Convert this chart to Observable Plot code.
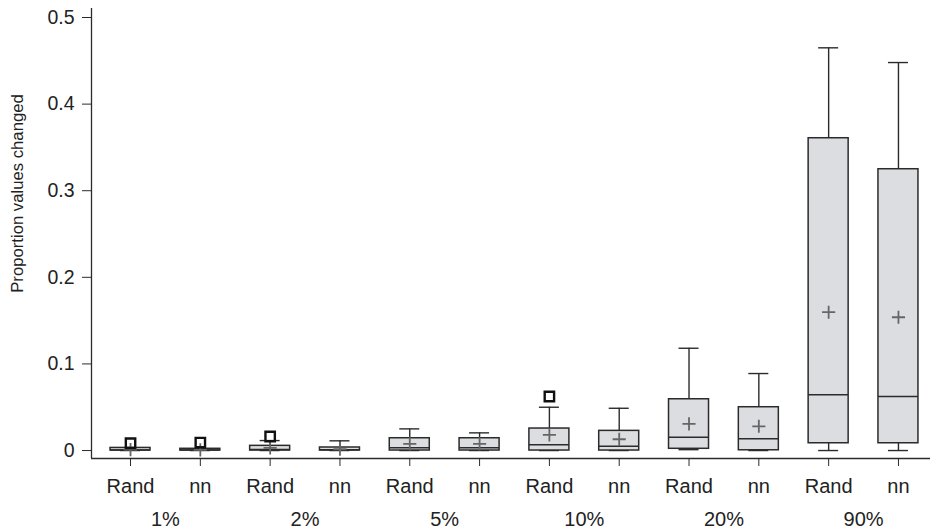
<!DOCTYPE html>
<html>
<head>
<meta charset="utf-8">
<script src="https://cdn.jsdelivr.net/npm/d3@7"></script>
<script src="https://cdn.jsdelivr.net/npm/@observablehq/plot@0.6"></script>
<style>
  html, body { margin: 0; padding: 0; background: #fff; }
  #chart svg { display: block; }
</style>
</head>
<body>
<div id="chart"></div>
<script>
// ---- data ----
const groups = ["1%", "2%", "5%", "10%", "20%", "90%"];
const methods = ["Rand", "nn"];
// order: 1% Rand, 1% nn, 2% Rand, 2% nn, 5% Rand, 5% nn, 10% Rand, 10% nn, 20% Rand, 20% nn, 90% Rand, 90% nn
const whiskerLow  = [0, 0, 0, 0, 0, 0, 0, 0, 0.001, 0, 0, 0];
const q1          = [0, 0, 0, 0, 0, 0, 0, 0, 0.002, 0.0003, 0.0084, 0.0084];
const median      = [0.0005, 0.0005, 0.0012, 0.001, 0.0031, 0.0031, 0.0066, 0.005, 0.0154, 0.0135, 0.0643, 0.0624];
const q3          = [0.003, 0.002, 0.0054, 0.0035, 0.0142, 0.0142, 0.0254, 0.0227, 0.0592, 0.05, 0.3606, 0.3248];
const whiskerHigh = [0.003, 0.002, 0.0115, 0.0112, 0.025, 0.0204, 0.05, 0.0488, 0.1181, 0.0889, 0.465, 0.448];
const mean        = [0.001, 0.0008, 0.003, 0.0015, 0.0077, 0.0077, 0.0181, 0.013, 0.0308, 0.028, 0.1597, 0.1539];
const outlierIndex = [0, 1, 2, 6];
const outlierValue = [0.0084, 0.0092, 0.0162, 0.0624];
const yTicks = [0, 0.1, 0.2, 0.3, 0.4, 0.5];
const yLabel = "Proportion values changed";

// ---- build table ----
const boxes = q1.map((_, i) => ({
  i, group: groups[Math.floor(i / 2)], method: methods[i % 2],
  lo: whiskerLow[i], q1: q1[i], med: median[i], q3: q3[i], hi: whiskerHigh[i], mean: mean[i]
}));
const outliers = outlierIndex.map((i, k) => ({ i, v: outlierValue[k] }));

const xDomain = [-0.559, 11.459];
const yDomain = [-0.0092, 0.5104];
const boxHalf = 0.2865;
const capHalf = 0.1432;
const boxFill = "#dcdde0";
const ink = "#2b2b2b";

const chart = Plot.plot({
  width: 930,
  height: 532,
  marginLeft: 91,
  marginRight: 0,
  marginTop: 8,
  marginBottom: 74,
  style: { fontFamily: "'Liberation Sans', Arial, Helvetica, sans-serif", background: "#fff", color: "#222" },
  x: { type: "linear", domain: xDomain },
  y: { type: "linear", domain: yDomain },
  marks: [
    // whiskers
    Plot.ruleX(boxes, { x: "i", y1: "lo", y2: "hi", stroke: ink, strokeWidth: 1.4 }),
    Plot.ruleY(boxes, { y: "hi", x1: d => d.i - capHalf, x2: d => d.i + capHalf, stroke: ink, strokeWidth: 1.4 }),
    Plot.ruleY(boxes, { y: "lo", x1: d => d.i - capHalf, x2: d => d.i + capHalf, stroke: ink, strokeWidth: 1.4 }),
    // boxes
    Plot.rect(boxes, { x1: d => d.i - boxHalf, x2: d => d.i + boxHalf, y1: "q1", y2: "q3", fill: boxFill, stroke: ink, strokeWidth: 1.5 }),
    Plot.ruleY(boxes, { y: "med", x1: d => d.i - boxHalf, x2: d => d.i + boxHalf, stroke: ink, strokeWidth: 1.5 }),
    // means
    Plot.dot(boxes, { x: "i", y: "mean", symbol: "plus", r: 4.3, stroke: "#666", strokeWidth: 1.8 }),
    // outliers
    Plot.dot(outliers, { x: "i", y: "v", symbol: "square", r: 5.3, stroke: "#111", strokeWidth: 2.4, fill: "none" }),
    // axes lines
    Plot.ruleY([yDomain[0]], { stroke: ink, strokeWidth: 1.3 }),
    Plot.ruleX([xDomain[0]], { stroke: ink, strokeWidth: 1.3 }),
    // y axis
    Plot.axisY({ ticks: yTicks, tickFormat: d => d === 0 ? "0" : d.toFixed(1), tickSize: 9, tickPadding: 8, fontSize: 19.5, label: null, stroke: ink }),
    Plot.text([yLabel], { frameAnchor: "left", textAnchor: "middle", rotate: -90, dx: -74, dy: -40, fontSize: 16.7, fill: "#222" }),
    // x axis: method labels
    Plot.axisX({ ticks: boxes.map(d => d.i), tickFormat: i => methods[i % 2], tickSize: 8, tickPadding: 12, fontSize: 20, label: null, stroke: ink }),
    // x axis: group labels
    Plot.axisX({ ticks: groups.map((g, k) => 2 * k + 0.5), tickFormat: v => groups[Math.round((v - 0.5) / 2)], tickSize: 0, tickPadding: 53, fontSize: 20, label: null })
  ]
});
document.getElementById("chart").appendChild(chart);
</script>
</body>
</html>
